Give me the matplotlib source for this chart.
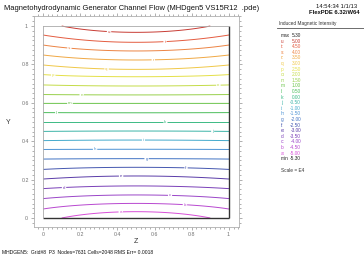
import numpy as np
import matplotlib
matplotlib.use("Agg")
import matplotlib.pyplot as plt

plt.rcParams['font.family'] = ['Liberation Sans', 'DejaVu Sans']

# ---- data ----
levels = [-5.0, -4.5, -4.0, -3.5, -3.0, -2.5, -2.0, -1.5, -1.0, -0.5, 0.0,
          0.5, 1.0, 1.5, 2.0, 2.5, 3.0, 3.5, 4.0, 4.5, 5.0]
letters = ['a', 'b', 'c', 'd', 'e', 'f', 'g', 'h', 'i', 'j', 'k',
           'l', 'm', 'n', 'o', 'p', 'q', 'r', 's', 't', 'u']
# y position of each contour at channel centre (Z=0.5)
center_y = [0.033, 0.076, 0.120, 0.167, 0.219, 0.264, 0.309, 0.358, 0.406, 0.453, 0.500,
            0.548, 0.597, 0.641, 0.6875, 0.736, 0.774, 0.823, 0.870, 0.915, 0.967]
# y position of contours b..t at the side wall (Z=0)
edge_y = [0.047, 0.101, 0.153, 0.203, 0.253, 0.307, 0.357, 0.403, 0.451, 0.500,
          0.549, 0.597, 0.643, 0.693, 0.747, 0.797, 0.849, 0.901, 0.953]
wall_center_value = 5.30
wall_corner_value = 4.83
vmax, vmin = 5.30, -5.30
# Z position of the letter label on each contour
label_x = [0.418, 0.763, 0.683, 0.113, 0.420, 0.769, 0.557, 0.280, 0.540, 0.912, 0.656,
           0.073, 0.145, 0.208, 0.943, 0.055, 0.342, 0.593, 0.142, 0.656, 0.355]
colors = ['#d84fd8', '#b848d0', '#9a45c8', '#7a40b8', '#5a3ca8', '#4658b0', '#4274c4',
          '#4c92d4', '#44aacc', '#3cb4a8', '#3cba84', '#4cbe5c', '#6cc44c', '#98d04c',
          '#c4dc48', '#e4e048', '#f0c848', '#f0a844', '#ec8444', '#e45c40', '#c83c34']

# ---- build the field from the read contour positions ----
nx, ny = 241, 241
xs = np.linspace(0, 1, nx)
ys = np.linspace(0, 1, ny)
X, Y = np.meshgrid(xs, ys)
Bc = np.interp(ys, [0.0] + center_y + [1.0], [-wall_center_value] + levels + [wall_center_value])
Be = np.interp(ys, [0.0] + edge_y + [1.0], [-wall_corner_value] + levels[1:-1] + [wall_corner_value])
H = (2 * X - 1) ** 2
B = Bc[:, None] * (1 - H) + Be[:, None] * H

fig = plt.figure(figsize=(3.64, 2.60), dpi=100)
W, Hh = 364.0, 260.0
ax = fig.add_axes([34 / W, (260 - 227) / Hh, 205 / W, 211 / Hh])
ax.set_xlim(-9 / 186, 1 + 10 / 186)
ax.set_ylim(-9 / 192, 1 + 10 / 192)

cs = ax.contour(X, Y, B, levels=levels, colors=colors, linewidths=0.7)

# labels
manual = []
for lx, lv in zip(label_x, levels):
    j = int(round(lx * (nx - 1)))
    col = B[:, j]
    ly = np.interp(lv, col, ys)
    manual.append((lx, ly))
fmt = {lv: lt for lv, lt in zip(levels, letters)}
ax.clabel(cs, levels=levels, manual=manual, fmt=fmt, fontsize=3.2, inline=True, inline_spacing=1)

# domain boundary
ax.plot([0, 1], [0, 0], color='#333333', lw=1.0, solid_capstyle='butt')
ax.plot([1, 1], [0, 1], color='#333333', lw=1.0, solid_capstyle='butt')
ax.plot([0, 0], [0, 1], color='#aaaaaa', lw=0.6)
ax.plot([0, 1], [1, 1], color='#aaaaaa', lw=0.6)

for s in ax.spines.values():
    s.set_color('#b0b0b0')
    s.set_linewidth(0.6)
ticks = [0, 0.2, 0.4, 0.6, 0.8, 1]
ax.set_xticks(ticks)
ax.set_yticks(ticks)
ax.set_xticklabels(['0', '0.2', '0.4', '0.6', '0.8', '1.'])
ax.set_yticklabels(['0.', '0.2', '0.4', '0.6', '0.8', '1.'])
ax.set_xticks(np.arange(-0.025, 1.051, 0.025), minor=True)
ax.set_yticks(np.arange(-0.025, 1.051, 0.025), minor=True)
ax.tick_params(which='both', direction='out', colors='#909090', labelcolor='#707070',
               top=True, right=True, width=0.5)
ax.tick_params(which='major', length=2.5, labelsize=3.8, pad=1.2)
ax.tick_params(which='minor', length=1.3)

# axis titles
fig.text(136 / W, 1 - 241.5 / Hh, 'Z', fontsize=5, ha='center', va='center', color='#333333')
fig.text(8 / W, 1 - 122 / Hh, 'Y', fontsize=5, ha='center', va='center', color='#333333')

# texts
fig.text(4 / W, 1 - 9 / Hh, 'Magnetohydrodynamic Generator Channel Flow (MHDgen5 VS15R12  .pde)',
         fontsize=5.4, va='center', ha='left', color='#111111')
fig.text(357 / W, 1 - 6.5 / Hh, '14:54:34 1/1/13', fontsize=4.2, ha='right', va='center', color='#111111')
fig.text(360 / W, 1 - 13 / Hh, 'FlexPDE 6.32/W64', fontsize=4.2, ha='right', va='center',
         color='#111111', fontweight='bold')
fig.text(279 / W, 1 - 23 / Hh, 'Induced Magnetic Intensity', fontsize=3.4, ha='left', va='center',
         color='#333333')
fig.add_artist(matplotlib.lines.Line2D([277 / W, 1.0], [1 - 27.5 / Hh, 1 - 27.5 / Hh],
                                       color='#555555', lw=0.6))
rows = [('max', vmax, '#222222')]
for lt, lv, c in zip(letters[::-1], levels[::-1], colors[::-1]):
    rows.append((lt + ':', lv, c))
rows.append(('min', vmin, '#222222'))
y0, dy = 35.5, 5.6
for i, (lt, lv, c) in enumerate(rows):
    yy = 1 - (y0 + i * dy) / Hh
    fig.text(281 / W, yy, lt, fontsize=3.4, ha='left', va='center', color=c)
    fig.text(301 / W, yy, '%.2f' % lv, fontsize=3.4, ha='right', va='center', color=c)
fig.text(281 / W, 1 - 171 / Hh, 'Scale = E4', fontsize=3.4, ha='left', va='center', color='#333333')
fig.text(2 / W, 1 - 252.5 / Hh, 'MHDGEN5:  Grid#8  P3  Nodes=7631 Cells=2048 RMS Err= 0.0018',
         fontsize=3.6, ha='left', va='center', color='#111111')

fig.savefig('out.png', dpi=100)
